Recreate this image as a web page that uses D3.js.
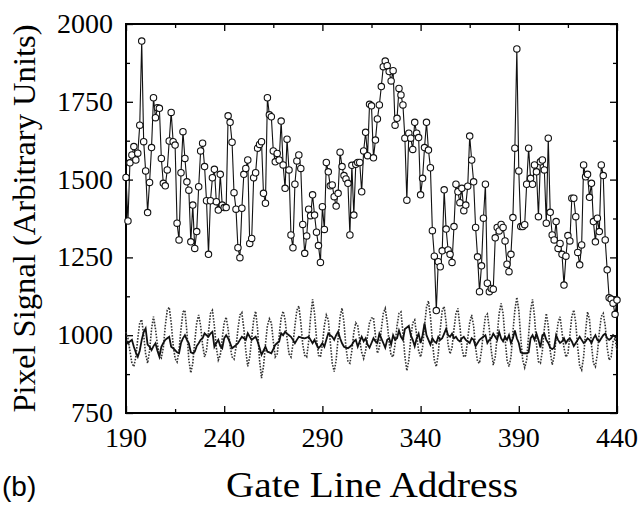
<!DOCTYPE html>
<html>
<head>
<meta charset="utf-8">
<script src="https://cdn.jsdelivr.net/npm/d3@7"></script>
<style>
  body { margin: 0; background: #fff; }
  svg { display: block; }
</style>
</head>
<body>
<div id="chart"></div>
<script>
// gate line addresses run 190..440, one sample per address
const firstAddress = 190;

// pixel signal of the marked (open circle) row
const markedSignal = [
  1507, 1367, 1554, 1579, 1606, 1563, 1585, 1675, 1945, 1622,
  1528, 1394, 1491, 1603, 1763, 1699, 1731, 1729, 1568, 1488,
  1480, 1531, 1624, 1716, 1622, 1611, 1360, 1306, 1522, 1654,
  1568, 1493, 1466, 1300, 1418, 1279, 1333, 1477, 1592, 1617,
  1542, 1432, 1260, 1432, 1506, 1533, 1429, 1402, 1517, 1418,
  1410, 1410, 1705, 1684, 1620, 1458, 1405, 1281, 1249, 1408,
  1517, 1536, 1563, 1295, 1311, 1506, 1522, 1601, 1613, 1622,
  1456, 1424, 1763, 1708, 1702, 1592, 1557, 1584, 1563, 1688,
  1547, 1472, 1630, 1531, 1322, 1281, 1485, 1560, 1579, 1536,
  1356, 1263, 1319, 1405, 1384, 1451, 1386, 1331, 1288, 1234,
  1413, 1340, 1555, 1525, 1480, 1483, 1445, 1415, 1456, 1588,
  1542, 1513, 1502, 1488, 1322, 1546, 1386, 1549, 1555, 1555,
  1461, 1592, 1652, 1577, 1742, 1737, 1570, 1627, 1695, 1740,
  1799, 1863, 1881, 1866, 1847, 1817, 1850, 1675, 1697, 1793,
  1772, 1740, 1633, 1434, 1649, 1633, 1597, 1684, 1649, 1635,
  1451, 1504, 1603, 1684, 1595, 1538, 1336, 1254, 1079, 1236,
  1220, 1271, 1467, 1341, 1274, 1260, 1234, 1349, 1485, 1461,
  1426, 1472, 1400, 1418, 1479, 1640, 1563, 1493, 1346, 1252,
  1140, 1223, 1376, 1485, 1167, 1140, 1150, 1148, 1313, 1346,
  1335, 1356, 1346, 1303, 1228, 1204, 1260, 1378, 1601, 1920,
  1528, 1349, 1349, 1355, 1485, 1601, 1504, 1485, 1547, 1525,
  1381, 1557, 1563, 1531, 1360, 1633, 1395, 1322, 1306, 1365,
  1279, 1295, 1260, 1161, 1254, 1320, 1303, 1440, 1440, 1381,
  1266, 1226, 1290, 1547, 1509, 1517, 1443, 1488, 1365, 1300,
  1376, 1333, 1547, 1513, 1306, 1210, 1120, 1116, 1103, 1067,
  1113
];

// dotted trace
const dottedSignal = [
  1010, 990, 950, 910, 899, 930, 990, 1040, 1050, 1000,
  940, 910, 950, 1020, 1060, 1020, 970, 935, 927, 960,
  1030, 1080, 1090, 1040, 970, 925, 914, 950, 1020, 1075,
  1080, 1010, 920, 879, 910, 980, 1040, 1065, 1030, 970,
  930, 950, 1010, 1070, 1080, 1030, 960, 920, 935, 990,
  1040, 1058, 1020, 965, 930, 923, 960, 1020, 1065, 1073,
  1020, 950, 900, 930, 990, 1050, 1077, 1020, 920, 862,
  900, 970, 1030, 1053, 1040, 980, 930, 940, 1000, 1055,
  1077, 1050, 990, 940, 930, 970, 1030, 1080, 1094, 1040,
  970, 935, 930, 980, 1060, 1115, 1070, 990, 935, 930,
  970, 1030, 1065, 1050, 980, 910, 883, 920, 990, 1060,
  1087, 1040, 960, 915, 910, 950, 1010, 1040, 1030, 985,
  945, 925, 950, 1000, 1040, 1055, 1057, 1000, 942, 960,
  1020, 1070, 1086, 1040, 975, 935, 930, 970, 1030, 1070,
  1075, 1010, 930, 886, 920, 990, 1040, 1049, 1000, 950,
  930, 960, 1030, 1090, 1110, 1060, 980, 920, 899, 940,
  1020, 1080, 1092, 1040, 970, 940, 960, 1020, 1070, 1086,
  1030, 960, 930, 935, 990, 1040, 1065, 1030, 960, 915,
  910, 950, 1010, 1060, 1068, 1020, 950, 904, 930, 1000,
  1070, 1102, 1070, 990, 920, 899, 930, 1010, 1080, 1122,
  1080, 990, 920, 896, 920, 1000, 1080, 1115, 1060, 970,
  915, 910, 950, 1020, 1070, 1030, 950, 905, 930, 990,
  1040, 1059, 1010, 960, 930, 940, 1000, 1060, 1081, 1040,
  960, 900, 888, 930, 1010, 1075, 1050, 970, 910, 899,
  940, 1010, 1060, 1070, 1030, 960, 920, 930, 980, 990,
  950
];

// solid trace
const solidSignal = [
  985, 974, 980, 985, 963, 945, 931, 950, 985, 1010,
  1022, 970, 963, 952, 965, 974, 950, 931, 963, 975,
  985, 990, 995, 963, 958, 952, 945, 942, 975, 990,
  1000, 985, 974, 945, 942, 947, 965, 974, 985, 990,
  1006, 1000, 995, 1005, 1011, 963, 975, 985, 965, 958,
  990, 1000, 990, 975, 958, 963, 968, 974, 985, 995,
  990, 985, 1006, 995, 985, 990, 995, 980, 960, 937,
  950, 963, 947, 945, 942, 955, 969, 975, 980, 1006,
  1000, 1011, 1005, 1000, 995, 985, 974, 985, 995, 993,
  991, 990, 992, 995, 985, 974, 985, 970, 958, 965,
  974, 963, 985, 1006, 1000, 995, 985, 1000, 1011, 990,
  974, 963, 960, 958, 963, 969, 980, 985, 963, 980,
  995, 980, 990, 970, 960, 975, 990, 980, 975, 1005,
  990, 975, 960, 985, 990, 970, 1000, 985, 990, 1015,
  995, 985, 1020, 1025, 1030, 1000, 985, 965, 990, 1005,
  975, 1000, 1038, 1000, 985, 970, 990, 980, 975, 995,
  985, 990, 1005, 1020, 1000, 995, 1005, 990, 995, 985,
  980, 990, 995, 985, 980, 975, 990, 985, 965, 975,
  985, 990, 995, 1000, 975, 985, 990, 1005, 995, 985,
  1010, 990, 980, 995, 985, 1000, 975, 990, 1015, 990,
  975, 945, 942, 942, 942, 945, 990, 1000, 985, 1005,
  985, 960, 1000, 1005, 985, 975, 960, 955, 960, 1000,
  985, 975, 980, 990, 975, 985, 990, 980, 965, 975,
  985, 995, 985, 975, 980, 990, 985, 975, 990, 1000,
  985, 980, 990, 1000, 1005, 990, 985, 990, 1000, 995,
  990
];

const xMajorTicks = [190, 240, 290, 340, 390, 440];
const xMinorTicks = [215, 265, 315, 365, 415];
const yMajorTicks = [750, 1000, 1250, 1500, 1750, 2000];
const yMinorTicks = [875, 1125, 1375, 1625, 1875];

const width = 641;
const height = 510;
const plot = { left: 126, right: 617, top: 24, bottom: 413 };
const serif = '"Liberation Serif", "Times New Roman", serif';

const svg = d3
  .select('#chart')
  .append('svg')
  .attr('width', width)
  .attr('height', height);

const x = d3.scaleLinear().domain([190, 440]).range([plot.left, plot.right]);
const y = d3.scaleLinear().domain([750, 2000]).range([plot.bottom, plot.top]);

const toPoints = (values) => values.map((v, i) => [firstAddress + i, v]);

const line = d3
  .line()
  .x((d) => x(d[0]))
  .y((d) => y(d[1]));

// axes: ticks point inward on all four sides
function tickAxis(axisFn, ticks, size, translate) {
  const g = svg
    .append('g')
    .attr('transform', translate)
    .call(axisFn.tickValues(ticks).tickSize(size).tickFormat(''));
  g.select('.domain').remove();
  g.selectAll('.tick line').attr('stroke', '#000').attr('stroke-width', 1.3);
  return g;
}

tickAxis(d3.axisBottom(x), xMajorTicks, -7, 'translate(0,' + plot.bottom + ')');
tickAxis(d3.axisBottom(x), xMinorTicks, -4, 'translate(0,' + plot.bottom + ')');
tickAxis(d3.axisTop(x), xMajorTicks, -7, 'translate(0,' + plot.top + ')');
tickAxis(d3.axisTop(x), xMinorTicks, -4, 'translate(0,' + plot.top + ')');
tickAxis(d3.axisLeft(y), yMajorTicks, -7, 'translate(' + plot.left + ',0)');
tickAxis(d3.axisLeft(y), yMinorTicks, -4, 'translate(' + plot.left + ',0)');
tickAxis(d3.axisRight(y), yMajorTicks, -7, 'translate(' + plot.right + ',0)');
tickAxis(d3.axisRight(y), yMinorTicks, -4, 'translate(' + plot.right + ',0)');

// tick labels
svg
  .append('g')
  .selectAll('text')
  .data(xMajorTicks)
  .enter()
  .append('text')
  .attr('x', (d) => x(d))
  .attr('y', plot.bottom + 34)
  .attr('text-anchor', 'middle')
  .style('font-family', serif)
  .style('font-size', '28px')
  .text((d) => d);

svg
  .append('g')
  .selectAll('text')
  .data(yMajorTicks)
  .enter()
  .append('text')
  .attr('x', plot.left - 13)
  .attr('y', (d) => y(d) + 9)
  .attr('text-anchor', 'end')
  .style('font-family', serif)
  .style('font-size', '28px')
  .text((d) => d);

// frame
svg
  .append('rect')
  .attr('x', plot.left)
  .attr('y', plot.top)
  .attr('width', plot.right - plot.left)
  .attr('height', plot.bottom - plot.top)
  .attr('fill', 'none')
  .attr('stroke', '#000')
  .attr('stroke-width', 2);

// reference traces
svg
  .append('path')
  .datum(toPoints(dottedSignal))
  .attr('fill', 'none')
  .attr('stroke', '#333')
  .attr('stroke-width', 1.6)
  .attr('stroke-dasharray', '1.6,1.4')
  .attr('d', line);

svg
  .append('path')
  .datum(toPoints(solidSignal))
  .attr('fill', 'none')
  .attr('stroke', '#111')
  .attr('stroke-width', 1.8)
  .attr('d', line);

// marked row
const marked = toPoints(markedSignal);

svg
  .append('path')
  .datum(marked)
  .attr('fill', 'none')
  .attr('stroke', '#111')
  .attr('stroke-width', 1.1)
  .attr('d', line);

svg
  .append('g')
  .selectAll('circle')
  .data(marked)
  .enter()
  .append('circle')
  .attr('cx', (d) => x(d[0]))
  .attr('cy', (d) => y(d[1]))
  .attr('r', 3.2)
  .attr('fill', '#fff')
  .attr('stroke', '#111')
  .attr('stroke-width', 1.1);

// titles
svg
  .append('text')
  .attr('transform', 'translate(35,' + (plot.top + plot.bottom) / 2 + ') rotate(-90)')
  .attr('text-anchor', 'middle')
  .attr('textLength', 388)
  .attr('lengthAdjust', 'spacingAndGlyphs')
  .style('font-family', serif)
  .style('font-size', '32px')
  .text('Pixel Signal (Arbitrary Units)');

svg
  .append('text')
  .attr('x', 372)
  .attr('y', 497)
  .attr('text-anchor', 'middle')
  .attr('textLength', 292)
  .attr('lengthAdjust', 'spacingAndGlyphs')
  .style('font-family', serif)
  .style('font-size', '35px')
  .text('Gate Line Address');

svg
  .append('text')
  .attr('x', 2)
  .attr('y', 496)
  .style('font-family', '"Liberation Sans", Arial, sans-serif')
  .style('font-size', '28px')
  .text('(b)');
</script>
</body>
</html>
